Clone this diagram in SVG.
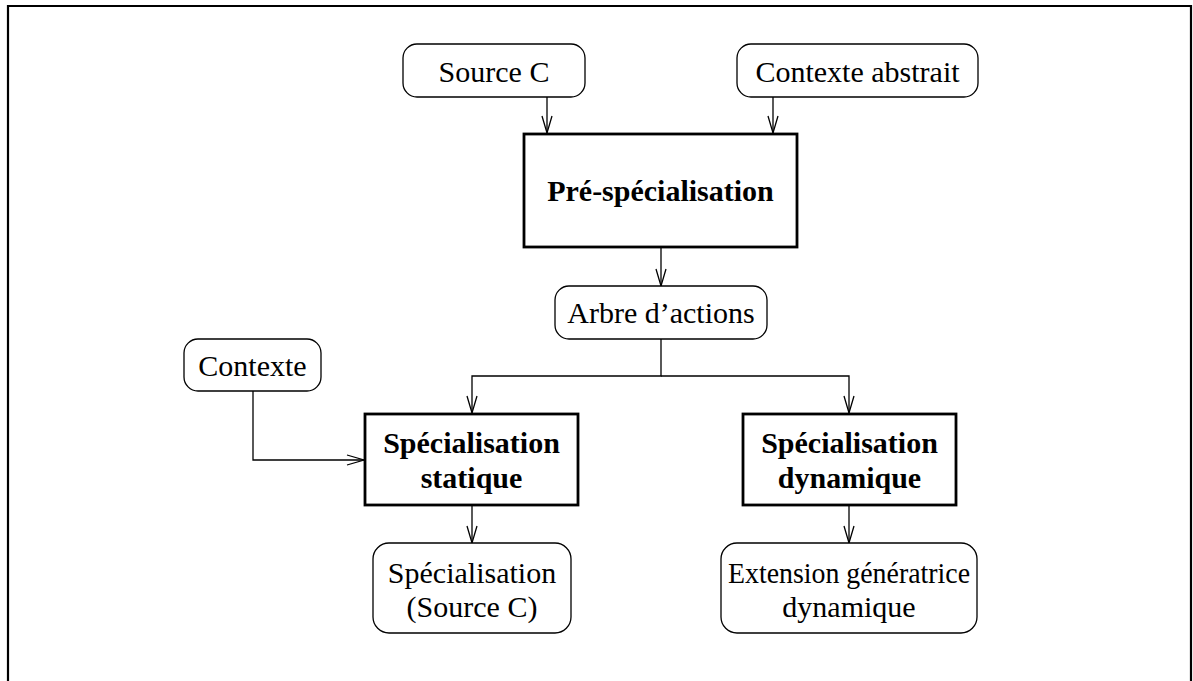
<svg xmlns="http://www.w3.org/2000/svg" width="1193" height="681" viewBox="0 0 1193 681">
<style>
  .frame { fill: none; stroke: #000; stroke-width: 2.2; }
  .rbox { fill: #fff; stroke: #000; stroke-width: 1.3; }
  .bbox { fill: #fff; stroke: #000; stroke-width: 2.8; }
  .conn { fill: none; stroke: #000; stroke-width: 1.3; }
  .t { font-family: "Liberation Serif", "Times New Roman", serif; font-size: 30px; fill: #000; text-anchor: middle; }
  .b { font-weight: bold; }
</style>
<defs>
  <marker id="arr" markerUnits="userSpaceOnUse" markerWidth="24" markerHeight="16" viewBox="-20 -8 24 16" refX="0" refY="0" orient="auto">
    <path d="M-17,-5 L0,0 L-17,5" fill="none" stroke="#000" stroke-width="1.3"/>
  </marker>
</defs>
<polyline class="frame" points="8,681 8,6 1191,6 1191,681"/>
<g id="connectors">
  <line class="conn" x1="547" y1="97" x2="547" y2="133" marker-end="url(#arr)"/>
  <line class="conn" x1="773" y1="97" x2="773" y2="133" marker-end="url(#arr)"/>
  <line class="conn" x1="661" y1="248" x2="661" y2="286" marker-end="url(#arr)"/>
  <polyline class="conn" points="661,339 661,376 472,376 472,413" marker-end="url(#arr)"/>
  <polyline class="conn" points="661,376 849,376 849,413" marker-end="url(#arr)"/>
  <polyline class="conn" points="253,391 253,460 364,460" marker-end="url(#arr)"/>
  <line class="conn" x1="472" y1="506" x2="472" y2="543" marker-end="url(#arr)"/>
  <line class="conn" x1="849" y1="506" x2="849" y2="543" marker-end="url(#arr)"/>
</g>
<g id="source-c">
  <rect class="rbox" x="403" y="44" width="182" height="53" rx="14"/>
  <text class="t" x="494" y="82">Source C</text>
</g>
<g id="contexte-abstrait">
  <rect class="rbox" x="737" y="44" width="241" height="53" rx="14"/>
  <text class="t" x="857.5" y="82">Contexte abstrait</text>
</g>
<g id="pre-specialisation">
  <rect class="bbox" x="524" y="134" width="273" height="113"/>
  <text class="t b" x="660.5" y="201">Pré-spécialisation</text>
</g>
<g id="arbre-actions">
  <rect class="rbox" x="555" y="286" width="212" height="53" rx="14"/>
  <text class="t" x="661" y="323">Arbre d’actions</text>
</g>
<g id="contexte">
  <rect class="rbox" x="184" y="339" width="137" height="52" rx="14"/>
  <text class="t" x="252.5" y="376">Contexte</text>
</g>
<g id="specialisation-statique">
  <rect class="bbox" x="365" y="414" width="213" height="91"/>
  <text class="t b" x="471.5" y="453">Spécialisation</text>
  <text class="t b" x="471.5" y="488">statique</text>
</g>
<g id="specialisation-dynamique">
  <rect class="bbox" x="743" y="414" width="213" height="91"/>
  <text class="t b" x="849.5" y="453">Spécialisation</text>
  <text class="t b" x="849.5" y="488">dynamique</text>
</g>
<g id="specialisation-source-c">
  <rect class="rbox" x="373" y="543" width="198" height="90" rx="16"/>
  <text class="t" x="472" y="583">Spécialisation</text>
  <text class="t" x="472" y="617">(Source C)</text>
</g>
<g id="extension-generatrice">
  <rect class="rbox" x="721" y="543" width="256" height="90" rx="16"/>
  <text class="t" x="849" y="583" textLength="242" lengthAdjust="spacingAndGlyphs">Extension génératrice</text>
  <text class="t" x="849" y="617">dynamique</text>
</g>
</svg>
